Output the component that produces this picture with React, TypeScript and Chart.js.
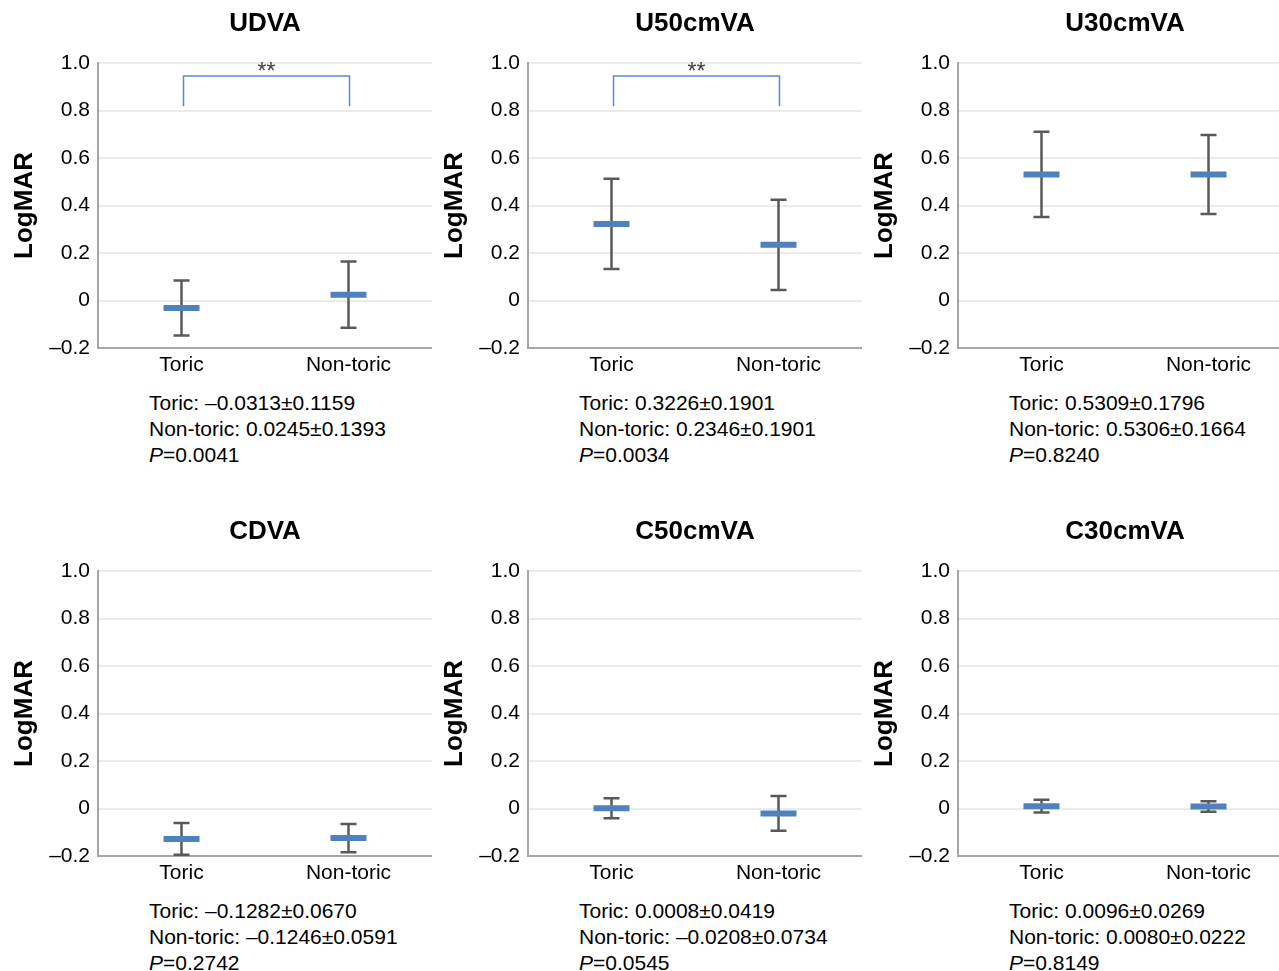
import React, { useEffect, useRef } from "react";
import { Chart, registerables } from "chart.js";

Chart.register(...registerables);

const panelTitles = ["UDVA", "U50cmVA", "U30cmVA", "CDVA", "C50cmVA", "C30cmVA"];
const categories = ["Toric", "Non-toric"];
const toricMean = [-0.0313, 0.3226, 0.5309, -0.1282, 0.0008, 0.0096];
const toricSD = [0.1159, 0.1901, 0.1796, 0.067, 0.0419, 0.0269];
const nonToricMean = [0.0245, 0.2346, 0.5306, -0.1246, -0.0208, 0.008];
const nonToricSD = [0.1393, 0.1901, 0.1664, 0.0591, 0.0734, 0.0222];
const pValues = ["0.0041", "0.0034", "0.8240", "0.2742", "0.0545", "0.8149"];
const significance = ["**", "**", "", "", "", ""];
const yTickLabels = ["–0.2", "0", "0.2", "0.4", "0.6", "0.8", "1.0"];

const FONT = '"Liberation Sans", Arial, Helvetica, sans-serif';
const BLUE = "#4f81bd";
const BRACKET = "#5a8ad2";
const ERR = "#595959";

const PANEL_W = 430;
const PANEL_H = 508;
const CANVAS_W = 432;
const CANVAS_H = 390;

function fmt(v: number): string {
  return (v < 0 ? "–" : "") + Math.abs(v).toFixed(4);
}

function Panel({ index }: { index: number }) {
  const ref = useRef<HTMLCanvasElement | null>(null);
  useEffect(() => {
    if (!ref.current) return;
    const means = [toricMean[index], nonToricMean[index]];
    const sds = [toricSD[index], nonToricSD[index]];
    const sig = significance[index];

    const errorBars = {
      id: "errorBars" + index,
      beforeDatasetsDraw(chart: any) {
        const { ctx, scales } = chart;
        const x = scales.x;
        const y = scales.y;
        ctx.save();
        ctx.strokeStyle = ERR;
        ctx.lineWidth = 2.5;
        ctx.lineCap = "butt";
        for (let i = 0; i < means.length; i++) {
          const px = x.getPixelForValue(i);
          const top = y.getPixelForValue(means[i] + sds[i]);
          const bot = y.getPixelForValue(means[i] - sds[i]);
          ctx.beginPath();
          ctx.moveTo(px, top);
          ctx.lineTo(px, bot);
          ctx.moveTo(px - 8, top);
          ctx.lineTo(px + 8, top);
          ctx.moveTo(px - 8, bot);
          ctx.lineTo(px + 8, bot);
          ctx.stroke();
        }
        if (sig) {
          const x0 = x.getPixelForValue(0) + 2;
          const x1 = x.getPixelForValue(1) + 1;
          const yTop = y.getPixelForValue(0.945);
          const yBot = y.getPixelForValue(0.818);
          ctx.strokeStyle = BRACKET;
          ctx.lineWidth = 1.5;
          ctx.beginPath();
          ctx.moveTo(x0, yBot);
          ctx.lineTo(x0, yTop);
          ctx.lineTo(x1, yTop);
          ctx.lineTo(x1, yBot);
          ctx.stroke();
          ctx.fillStyle = "#404040";
          ctx.font = "23px " + FONT;
          ctx.textAlign = "center";
          ctx.textBaseline = "alphabetic";
          ctx.fillText(sig, (x0 + x1) / 2, yTop + 3);
        }
        ctx.restore();
      },
    };

    const chart = new Chart(ref.current, {
      type: "line",
      data: {
        labels: categories,
        datasets: [
          {
            data: means,
            showLine: false,
            pointStyle: "line",
            pointRadius: 18,
            pointHoverRadius: 18,
            pointBorderWidth: 6,
            pointHoverBorderWidth: 6,
            pointBorderColor: BLUE,
            pointBackgroundColor: BLUE,
            borderColor: BLUE,
          },
        ],
      },
      options: {
        responsive: false,
        animation: false,
        events: [],
        layout: { padding: 0, autoPadding: false },
        plugins: {
          legend: { display: false },
          tooltip: { enabled: false },
          title: {
            display: true,
            text: panelTitles[index],
            fullSize: false,
            color: "#000",
            font: { family: FONT, size: 26, weight: "bold" },
            padding: { top: 8.4, bottom: 23.4 },
          },
        },
        scales: {
          x: {
            type: "category",
            offset: true,
            grid: { display: false, drawTicks: false },
            border: { display: true, color: "#a6a6a6", width: 2 },
            ticks: { color: "#000", font: { family: FONT, size: 21 }, padding: 5 },
            afterFit: (s: any) => {
              s.height = 42;
              s.paddingLeft = 0;
              s.paddingRight = 0;
            },
          },
          y: {
            min: -0.2,
            max: 1.0,
            ticks: {
              stepSize: 0.2,
              color: "#000",
              font: { family: FONT, size: 21 },
              padding: 8,
              callback: (_v: any, idx: number) => yTickLabels[idx],
            },
            grid: { color: "#ebebeb", lineWidth: 2, drawTicks: false },
            border: { display: true, color: "#a6a6a6", width: 2 },
            title: {
              display: true,
              text: "LogMAR",
              color: "#000",
              font: { family: FONT, size: 26, weight: "bold" },
              padding: { top: 9.4, bottom: 0 },
            },
            afterFit: (s: any) => {
              s.width = 98;
              s.paddingTop = 0;
              s.paddingBottom = 0;
            },
          },
        },
      } as any,
      plugins: [errorBars],
    });
    return () => chart.destroy();
  }, [index]);

  const col = index % 3;
  const row = Math.floor(index / 3);
  const left = col * PANEL_W;
  const top = row * PANEL_H;
  return (
    <>
      <canvas
        ref={ref}
        width={CANVAS_W}
        height={CANVAS_H}
        style={{ position: "absolute", left, top, width: CANVAS_W, height: CANVAS_H }}
      />
      <div
        style={{
          position: "absolute",
          left: left + 149,
          top: top + CANVAS_H,
          fontFamily: FONT,
          fontSize: 21,
          lineHeight: "26px",
          color: "#000",
          whiteSpace: "nowrap",
        }}
      >
        <div>
          {categories[0]}: {fmt(toricMean[index])}±{toricSD[index].toFixed(4)}
        </div>
        <div>
          {categories[1]}: {fmt(nonToricMean[index])}±{nonToricSD[index].toFixed(4)}
        </div>
        <div>
          <i>P</i>={pValues[index]}
        </div>
      </div>
    </>
  );
}

export default function App() {
  return (
    <div
      style={{
        position: "absolute",
        left: 0,
        top: 0,
        width: 1279,
        height: 971,
        overflow: "hidden",
        background: "#fff",
      }}
    >
      {panelTitles.map((_t, i) => (
        <Panel key={i} index={i} />
      ))}
    </div>
  );
}
